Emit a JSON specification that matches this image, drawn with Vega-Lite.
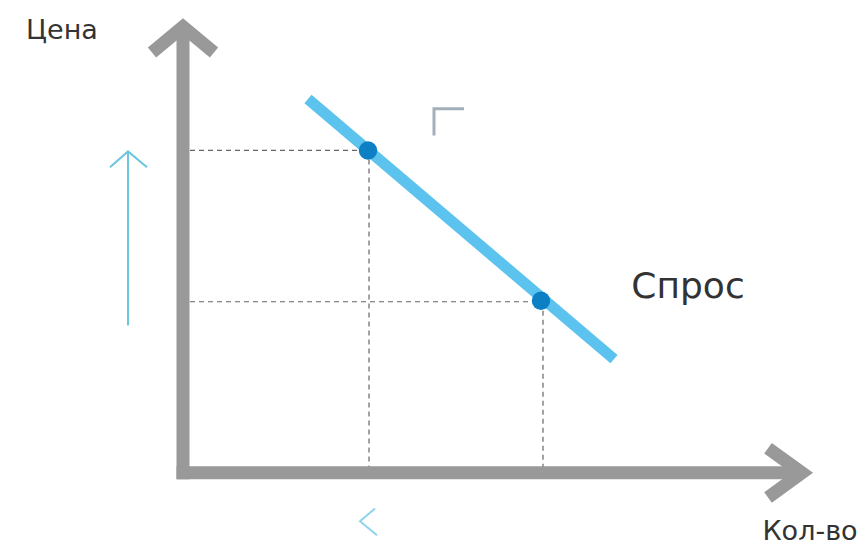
{
  "$schema": "https://vega.github.io/schema/vega-lite/v6.json",
  "width": 866,
  "height": 551,
  "autosize": {"type": "fit", "contains": "padding"},
  "padding": 0,
  "background": "#ffffff",
  "config": {"view": {"stroke": null}},
  "datasets": {
    "guides": [
      {"seg": "h1", "o": 0, "q": 0.14, "p": 6.52},
      {"seg": "h1", "o": 1, "q": 3.7, "p": 6.52},
      {"seg": "v1", "o": 0, "q": 3.72, "p": 6.52},
      {"seg": "v1", "o": 1, "q": 3.72, "p": 0.1},
      {"seg": "h2", "o": 0, "q": 0.14, "p": 3.46},
      {"seg": "h2", "o": 1, "q": 7.16, "p": 3.46},
      {"seg": "v2", "o": 0, "q": 7.2, "p": 3.46},
      {"seg": "v2", "o": 1, "q": 7.2, "p": 0.1}
    ],
    "axes": [
      {"seg": "yshaft", "o": 0, "q": 0, "p": -0.13},
      {"seg": "yshaft", "o": 1, "q": 0, "p": 9.0},
      {"seg": "xshaft", "o": 0, "q": -0.13, "p": 0},
      {"seg": "xshaft", "o": 1, "q": 12.35, "p": 0},
      {"seg": "yhead", "o": 0, "q": -0.62, "p": 8.5},
      {"seg": "yhead", "o": 1, "q": 0, "p": 9.02},
      {"seg": "yhead", "o": 2, "q": 0.62, "p": 8.5},
      {"seg": "xhead", "o": 0, "q": 11.7, "p": 0.5},
      {"seg": "xhead", "o": 1, "q": 12.38, "p": 0},
      {"seg": "xhead", "o": 2, "q": 11.7, "p": -0.5}
    ],
    "demand": [
      {"o": 0, "q": 2.5, "p": 7.56},
      {"o": 1, "q": 8.62, "p": 2.3}
    ],
    "dots": [
      {"q": 3.7, "p": 6.52},
      {"q": 7.16, "p": 3.48}
    ],
    "uparrow": [
      {"seg": "shaft", "o": 0, "q": -1.1, "p": 2.98},
      {"seg": "shaft", "o": 1, "q": -1.1, "p": 6.5},
      {"seg": "head", "o": 0, "q": -1.46, "p": 6.18},
      {"seg": "head", "o": 1, "q": -1.1, "p": 6.5},
      {"seg": "head", "o": 2, "q": -0.72, "p": 6.18}
    ],
    "less": [
      {"o": 0, "q": 3.84, "p": -0.72},
      {"o": 1, "q": 3.54, "p": -0.98},
      {"o": 2, "q": 3.88, "p": -1.26}
    ],
    "corner": [
      {"o": 0, "q": 5.62, "p": 7.36},
      {"o": 1, "q": 5.02, "p": 7.36},
      {"o": 2, "q": 5.02, "p": 6.82}
    ],
    "labels": [
      {"label": "Цена", "q": -2.42, "p": 8.94, "kind": "axis"},
      {"label": "Кол-во", "q": 12.54, "p": -1.2, "kind": "axis"}
    ],
    "curvelabel": [
      {"label": "Спрос", "q": 10.1, "p": 3.76}
    ]
  },
  "layer": [
    {
      "data": {"name": "guides"},
      "mark": {"type": "line", "color": "#666666", "strokeWidth": 1.2, "strokeDash": [5, 4]},
      "encoding": {
        "x": {"field": "q", "type": "quantitative", "scale": {"domain": [-3.66, 13.66], "nice": false, "zero": false}, "axis": null},
        "y": {"field": "p", "type": "quantitative", "scale": {"domain": [-1.58, 9.44], "nice": false, "zero": false}, "axis": null},
        "detail": {"field": "seg"},
        "order": {"field": "o"}
      }
    },
    {
      "data": {"name": "axes"},
      "mark": {"type": "line", "color": "#999999", "strokeWidth": 13, "strokeCap": "butt", "strokeJoin": "miter"},
      "encoding": {
        "x": {"field": "q", "type": "quantitative"},
        "y": {"field": "p", "type": "quantitative"},
        "detail": {"field": "seg"},
        "order": {"field": "o"}
      }
    },
    {
      "data": {"name": "demand"},
      "mark": {"type": "line", "color": "#5cc3ee", "strokeWidth": 11, "strokeCap": "butt"},
      "encoding": {
        "x": {"field": "q", "type": "quantitative"},
        "y": {"field": "p", "type": "quantitative"},
        "order": {"field": "o"}
      }
    },
    {
      "data": {"name": "dots"},
      "mark": {"type": "point", "filled": true, "color": "#0d7fc4", "opacity": 1, "size": 340},
      "encoding": {
        "x": {"field": "q", "type": "quantitative"},
        "y": {"field": "p", "type": "quantitative"}
      }
    },
    {
      "data": {"name": "uparrow"},
      "mark": {"type": "line", "color": "#6cc6e0", "strokeWidth": 2},
      "encoding": {
        "x": {"field": "q", "type": "quantitative"},
        "y": {"field": "p", "type": "quantitative"},
        "detail": {"field": "seg"},
        "order": {"field": "o"}
      }
    },
    {
      "data": {"name": "less"},
      "mark": {"type": "line", "color": "#8fd4ec", "strokeWidth": 2},
      "encoding": {
        "x": {"field": "q", "type": "quantitative"},
        "y": {"field": "p", "type": "quantitative"},
        "order": {"field": "o"}
      }
    },
    {
      "data": {"name": "corner"},
      "mark": {"type": "line", "color": "#a3b0ba", "strokeWidth": 3, "strokeJoin": "miter"},
      "encoding": {
        "x": {"field": "q", "type": "quantitative"},
        "y": {"field": "p", "type": "quantitative"},
        "order": {"field": "o"}
      }
    },
    {
      "data": {"name": "labels"},
      "mark": {"type": "text", "font": "DejaVu Sans", "fontSize": 27, "color": "#333333", "align": "center", "baseline": "middle"},
      "encoding": {
        "x": {"field": "q", "type": "quantitative"},
        "y": {"field": "p", "type": "quantitative"},
        "text": {"field": "label"}
      }
    },
    {
      "data": {"name": "curvelabel"},
      "mark": {"type": "text", "font": "DejaVu Sans", "fontSize": 36, "color": "#333333", "align": "center", "baseline": "middle"},
      "encoding": {
        "x": {"field": "q", "type": "quantitative"},
        "y": {"field": "p", "type": "quantitative"},
        "text": {"field": "label"}
      }
    }
  ]
}
